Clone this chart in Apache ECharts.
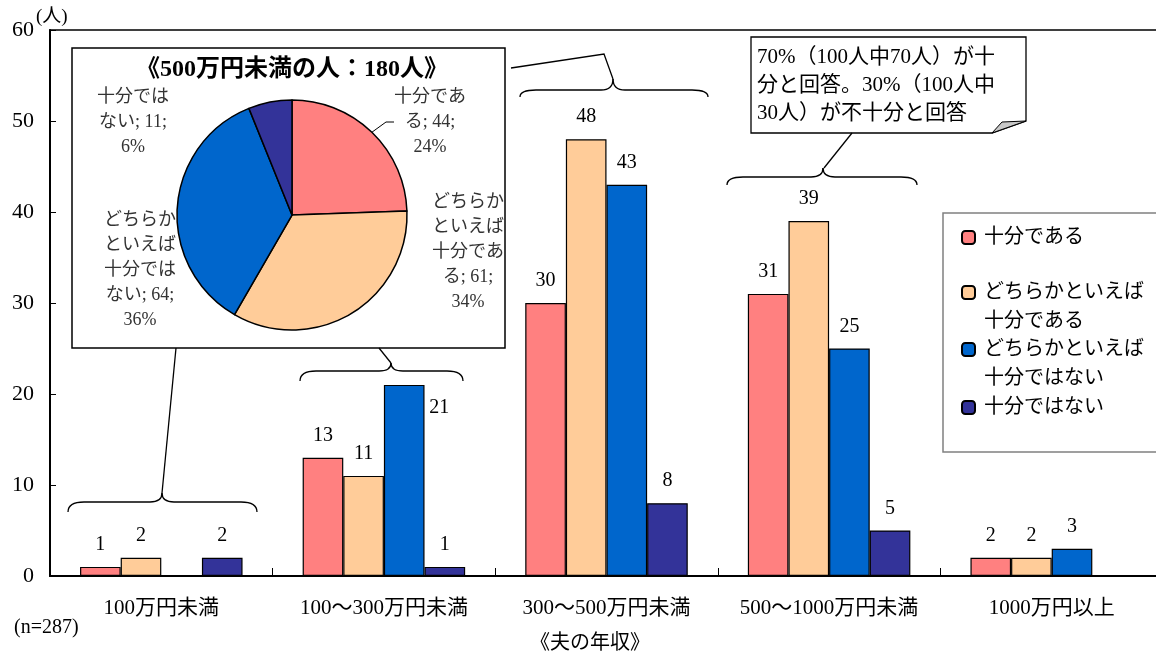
<!DOCTYPE html>
<html lang="ja">

<head>
    <meta charset="UTF-8">
    <title>夫の年収別</title>
    <script src="https://cdn.jsdelivr.net/npm/echarts@6/dist/echarts.min.js"></script>
    <style>
        * {
            margin: 0;
            padding: 0
        }

        html,
        body {
            width: 100%;
            height: 100%;
            background: #fff;
        }

        #main {
            width: 1156px;
            height: 654px;
        }
    </style>
</head>

<body>
    <div id="main"></div>
    <script type="text/javascript">
        // 夫の年収
        var categories = ['100万円未満', '100～300万円未満', '300～500万円未満', '500～1000万円未満', '1000万円以上'];
        var seriesNames = ['十分である', 'どちらかといえば十分である', 'どちらかといえば十分ではない', '十分ではない'];
        var enough = [1, 13, 30, 31, 2];
        var ratherEnough = [2, 11, 48, 39, 2];
        var ratherNotEnough = [0, 21, 43, 25, 3];
        var notEnough = [2, 1, 8, 5, 0];
        // 500万円未満の人（180人）
        var pieValues = [44, 61, 64, 11];
        var yTicks = [0, 10, 20, 30, 40, 50, 60];

        var colors = ['#FF8080', '#FFCC99', '#0066CC', '#333399'];
        var FONT = '"Liberation Serif", "Noto Sans CJK JP", serif';

        var myChart = echarts.init(document.getElementById('main'));

        var barValues = [enough, ratherEnough, ratherNotEnough, notEnough];
        var barSeries = barValues.map(function (vals, i) {
            return {
                name: seriesNames[i],
                type: 'bar',
                barGap: '0%',
                barCategoryGap: '27%',
                itemStyle: { color: colors[i], borderColor: '#000', borderWidth: 1.2 },
                label: {
                    show: true,
                    position: 'top',
                    distance: 12,
                    fontFamily: FONT,
                    fontSize: 20,
                    color: '#000',
                    formatter: function (p) { return p.value ? p.value : ''; }
                },
                data: vals.map(function (v, j) {
                    // 21 のラベルだけ棒の右側
                    if (i === 2 && j === 1) return { value: v, label: { offset: [35, 45] } };
                    return v;
                }),
                z: 3
            };
        });

        // ラベルを4文字ずつ折り返す
        function wrap4(s) {
            var out = [];
            for (var k = 0; k < s.length; k += 4) out.push(s.slice(k, k + 4));
            return out;
        }

        var pieLabelPos = [[430, 122], [468, 252], [140, 270], [133, 122]];

        var pieSeries = {
            name: '500万円未満の人',
            type: 'pie',
            center: [292, 215],
            radius: 115,
            percentPrecision: 0,
            itemStyle: { borderColor: '#000', borderWidth: 1.5 },
            label: {
                show: true,
                fontFamily: FONT,
                fontSize: 18,
                lineHeight: 25,
                color: '#333',
                align: 'center',
                formatter: function (p) {
                    var lines = wrap4(p.name);
                    lines[lines.length - 1] += '; ' + p.value + ';';
                    return lines.join('\n') + '\n' + p.percent + '%';
                }
            },
            labelLine: { show: false, length: 4, length2: 8, lineStyle: { color: '#000', width: 1 } },
            labelLayout: function (params) {
                var pos = pieLabelPos[params.dataIndex];
                return { x: pos[0], y: pos[1], align: 'center', verticalAlign: 'middle' };
            },
            data: pieValues.map(function (v, i) {
                var item = { name: seriesNames[i], value: v, itemStyle: { color: colors[i] } };
                if (i === 0) item.labelLine = { show: true };
                return item;
            }),
            z: 5
        };

        // 凡例は1項目ずつ置く（2行の項目はアイコンを1行目に揃える）
        function legendFor(i, top) {
            return {
                show: true,
                selectedMode: false,
                orient: 'vertical',
                left: 961,
                top: top,
                padding: 0,
                itemWidth: 13,
                itemHeight: 13,
                data: [seriesNames[i]],
                formatter: function (name) {
                    return name.length > 8 ? ' \n' + name.slice(0, 8) + '\n' + name.slice(8) : name;
                },
                textStyle: {
                    fontFamily: FONT,
                    fontSize: 20,
                    lineHeight: 29,
                    color: '#000',
                    padding: [0, 0, 0, 4]
                }
            };
        }

        var lineStyle = { stroke: '#000', lineWidth: 1.3, fill: null };

        // 中括弧（二次ベジェと直線で組み立て）
        function brace(x1, x2, yEnd, yH, px, py) {
            var r = 16, q = 12;
            function curve(ax, ay, cx, cy, bx, by) {
                return { type: 'bezierCurve', shape: { x1: ax, y1: ay, cpx1: cx, cpy1: cy, x2: bx, y2: by }, style: lineStyle };
            }
            function line(ax, ay, bx, by) {
                return { type: 'line', shape: { x1: ax, y1: ay, x2: bx, y2: by }, style: lineStyle };
            }
            return {
                type: 'group', z: 4,
                children: [
                    curve(x1, yEnd, x1, yH, x1 + r, yH),
                    line(x1 + r, yH, px - q, yH),
                    curve(px - q, yH, px, yH, px, py),
                    curve(px, py, px, yH, px + q, yH),
                    line(px + q, yH, x2 - r, yH),
                    curve(x2 - r, yH, x2, yH, x2, yEnd)
                ]
            };
        }

        var option = {
            backgroundColor: '#fff',
            animation: false,
            textStyle: { fontFamily: FONT },
            grid: {
                left: 50,
                width: 1113,
                top: 30,
                bottom: 78,
                outerBoundsMode: 'none',
                show: true,
                borderColor: '#000',
                borderWidth: 1.5
            },
            legend: [legendFor(0, 223), legendFor(1, 249), legendFor(2, 306), legendFor(3, 393)],
            xAxis: {
                type: 'category',
                data: categories,
                name: '《夫の年収》',
                nameLocation: 'middle',
                nameGap: 58,
                nameTextStyle: { fontFamily: FONT, fontSize: 20, color: '#000', padding: [0, 33, 0, 0] },
                axisLine: { lineStyle: { color: '#000', width: 2 } },
                axisTick: { show: true, inside: true, length: 8, lineStyle: { color: '#000' } },
                axisLabel: { interval: 0, fontFamily: FONT, fontSize: 21, color: '#000', margin: 22 }
            },
            yAxis: {
                type: 'value',
                min: yTicks[0],
                max: yTicks[yTicks.length - 1],
                interval: 10,
                axisLine: { show: true, lineStyle: { color: '#000', width: 2 } },
                axisTick: { show: true, inside: true, length: 6, lineStyle: { color: '#000' } },
                splitLine: { show: false },
                axisLabel: { fontFamily: FONT, fontSize: 22, color: '#000', margin: 16 }
            },
            graphic: [
                // 単位
                { type: 'text', z: 10, x: 36, y: 17, style: { text: '(人)', font: '19px ' + FONT, fill: '#000', verticalAlign: 'middle' } },
                // 円グラフの枠
                { type: 'rect', z: 1, shape: { x: 72, y: 48, width: 433, height: 300 }, style: { fill: '#fff', stroke: '#000', lineWidth: 1.5 } },
                { type: 'text', z: 10, x: 292, y: 70, style: { text: '《500万円未満の人：180人》', font: 'bold 24px ' + FONT, fill: '#000', align: 'center', verticalAlign: 'middle' } },
                // 凡例の枠
                { type: 'rect', z: 1, shape: { x: 943, y: 213, width: 240, height: 239 }, style: { fill: '#fff', stroke: '#808080', lineWidth: 1.5 } },
                // 吹き出し
                { type: 'polygon', z: 1, shape: { points: [[751, 37], [1026, 37], [1026, 121], [992, 133], [751, 133]] }, style: { fill: '#fff', stroke: '#000', lineWidth: 1.3 } },
                { type: 'polygon', z: 1, shape: { points: [[992, 133], [1002, 122], [1026, 121]] }, style: { fill: '#c8c8c8', stroke: '#000', lineWidth: 1 } },
                { type: 'text', z: 10, x: 757, y: 43, style: { text: '70%（100人中70人）が十\n分と回答。30%（100人中\n30人）が不十分と回答', font: '21px ' + FONT, lineHeight: 28, fill: '#000', verticalAlign: 'top' } },
                // 中括弧と引き出し線
                brace(68, 257, 512, 502, 162, 493),
                brace(300, 463, 381, 371, 391, 363),
                brace(520, 708, 97, 90, 613, 79),
                brace(727, 917, 185, 177, 823, 168),
                { type: 'polyline', z: 4, shape: { points: [[176, 348], [162, 493]] }, style: lineStyle },
                { type: 'polyline', z: 4, shape: { points: [[379, 348], [391, 363]] }, style: lineStyle },
                { type: 'polyline', z: 4, shape: { points: [[511, 68], [604, 54], [613, 79]] }, style: lineStyle },
                { type: 'polyline', z: 4, shape: { points: [[852, 133], [824, 168]] }, style: lineStyle },
                // 回答数
                { type: 'text', z: 10, x: 14, y: 628, style: { text: '(n=287)', font: '20px ' + FONT, fill: '#000', verticalAlign: 'middle' } }
            ],
            series: barSeries.concat([pieSeries])
        };

        myChart.setOption(option);
    </script>
</body>

</html>
